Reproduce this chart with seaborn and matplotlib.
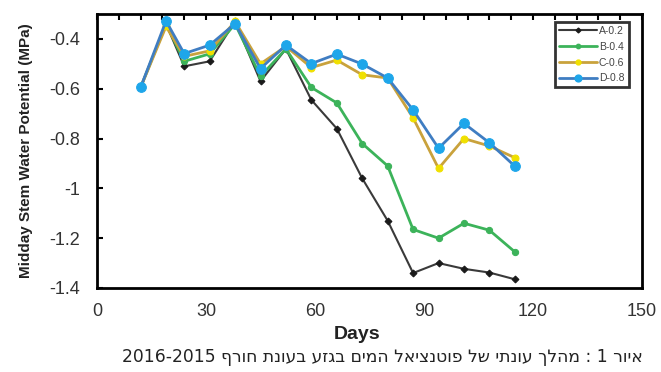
import matplotlib
matplotlib.use("Agg")
import matplotlib.pyplot as plt
import seaborn as sns
import pandas as pd
from matplotlib.ticker import MultipleLocator, FixedLocator, FixedFormatter
from matplotlib.lines import Line2D

days = [12, 19, 24, 31, 38, 45, 52, 59, 66, 73, 80, 87, 94, 101, 108, 115]
series_a = [-0.595, -0.34, -0.51, -0.49, -0.33, -0.57, -0.44, -0.645, -0.76, -0.96, -1.13, -1.34, -1.30, -1.323, -1.338, -1.365]
series_b = [-0.595, -0.34, -0.49, -0.46, -0.34, -0.55, -0.44, -0.595, -0.657, -0.82, -0.91, -1.165, -1.20, -1.14, -1.168, -1.255]
series_c = [-0.595, -0.35, -0.47, -0.448, -0.33, -0.50, -0.43, -0.515, -0.485, -0.544, -0.557, -0.717, -0.92, -0.80, -0.83, -0.877]
series_d = [-0.595, -0.328, -0.459, -0.425, -0.339, -0.519, -0.425, -0.499, -0.461, -0.501, -0.557, -0.685, -0.839, -0.739, -0.817, -0.911]
labels = ["A-0.2", "B-0.4", "C-0.6", "D-0.8"]
yticks = [-1.4, -1.2, -1.0, -0.8, -0.6, -0.4]
ytick_labels = ["-1.4", "-1.2", "-1", "-0.8", "-0.6", "-0.4"]
xticks = [0, 30, 60, 90, 120, 150]
caption_logical = "איור 1 : מהלך עונתי של פוטנציאל המים בגזע בעונת חורף 2016-2015"

sns.set_theme(style="white")
plt.rcParams["font.family"] = ["Liberation Sans", "DejaVu Sans"]

fig = plt.figure(figsize=(6.61, 3.72), dpi=100)
ax = fig.add_axes([97/661, 1-288/372, (642-97)/661, (288-14)/372])

styles = [
    dict(color="#3a3a3a", mfc="#1a1a1a", mec="#1a1a1a", marker="D", ms=3.5, lw=1.5),
    dict(color="#3cb35a", mfc="#3cb35a", mec="#3cb35a", marker="o", ms=4.5, lw=2.0),
    dict(color="#c9a23c", mfc="#f0e000", mec="#f0e000", marker="o", ms=5, lw=2.0),
    dict(color="#3f7dc2", mfc="#1ea6ea", mec="#1ea6ea", marker="o", ms=7, lw=2.0),
]
all_series = [series_a, series_b, series_c, series_d]
handles = []
for lab, vals, st in zip(labels, all_series, styles):
    df = pd.DataFrame({"Days": days, "v": vals})
    sns.lineplot(data=df, x="Days", y="v", ax=ax, color=st["color"], lw=st["lw"],
                 marker=st["marker"], markersize=st["ms"],
                 markerfacecolor=st["mfc"], markeredgecolor=st["mec"])
    handles.append(Line2D([0], [0], color=st["color"], lw=st["lw"], marker=st["marker"],
                          markersize=st["ms"] * 0.7, markerfacecolor=st["mfc"],
                          markeredgecolor=st["mec"], label=lab))

ax.set_xlim(0, 150)
ax.set_ylim(-1.4, -0.3)
ax.xaxis.set_major_locator(FixedLocator(xticks))
ax.xaxis.set_minor_locator(MultipleLocator(6))
ax.yaxis.set_major_locator(FixedLocator(yticks))
ax.yaxis.set_major_formatter(FixedFormatter(ytick_labels))
ax.tick_params(axis="x", which="major", bottom=False, top=True, direction="in",
               length=4, width=1.5, color="black", labelsize=13, labelcolor="#333333", pad=11)
ax.tick_params(axis="x", which="minor", bottom=False, top=True, direction="in",
               length=4, width=1.5, color="black")
ax.tick_params(axis="y", which="major", left=True, right=False, direction="in",
               length=4, width=1.5, color="black", labelsize=13, labelcolor="#333333", pad=12)

for sp in ax.spines.values():
    sp.set_visible(True)
    sp.set_color("black")
    sp.set_linewidth(2)

ax.set_xlabel("Days", fontsize=14, fontweight="bold", color="#222222", labelpad=1)
ax.xaxis.set_label_coords(0.478, -0.14)
ax.set_ylabel("Midday Stem Water Potential (MPa)", fontsize=11, fontweight="bold",
              color="#222222", labelpad=12)

leg = ax.legend(handles=handles, loc="upper right", bbox_to_anchor=(0.985, 0.99),
                fontsize=7.5, frameon=True, fancybox=False, handlelength=3.6,
                handletextpad=0.2, labelspacing=0.55, borderpad=0.4, labelcolor="#444444")
leg.get_frame().set_edgecolor("black")
leg.get_frame().set_linewidth(2)

# build visual (left-to-right) order for the right-to-left caption
tokens = caption_logical.split(" ")
visual = []
for t in reversed(tokens):
    if any("\u0590" <= ch <= "\u05ff" for ch in t):
        visual.append(t[::-1])
    else:
        visual.append(t)
caption_visual = " ".join(visual)
fig.text(643/661, 1-357/372, caption_visual, ha="right", va="center", fontsize=12.3,
         color="#222222", family=["DejaVu Sans"])

fig.savefig("out.png", dpi=100)
